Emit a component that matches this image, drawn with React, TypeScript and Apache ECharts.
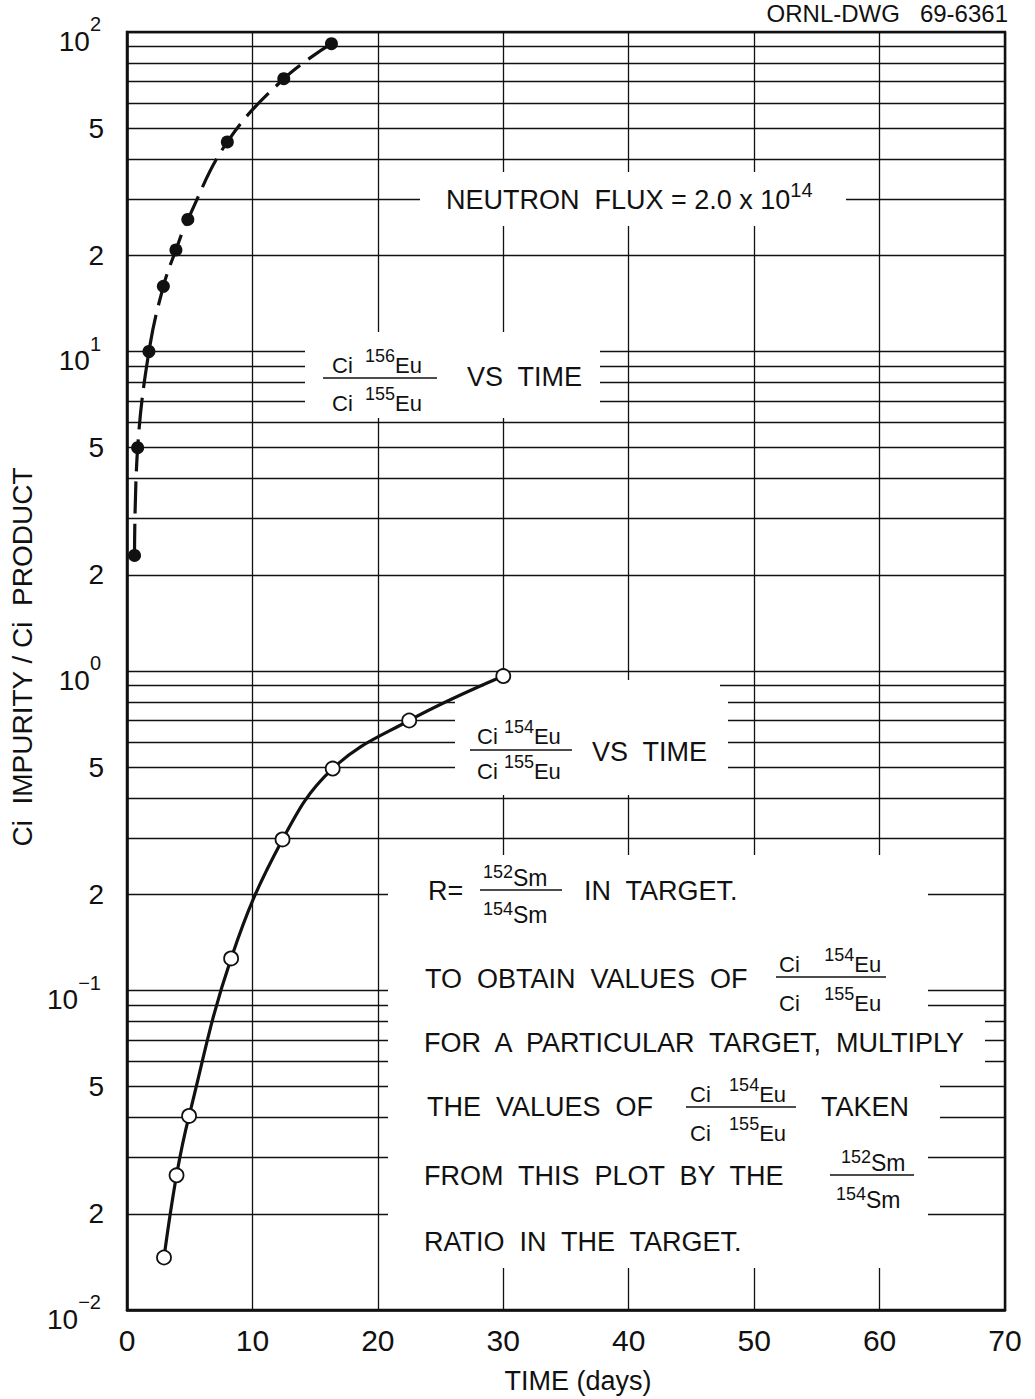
import React, { useEffect, useRef } from 'react';
import * as echarts from 'echarts';

// ---- data ----
const filledTime = [0.6, 0.85, 1.75, 2.9, 3.9, 4.85, 8.0, 12.5, 16.3];
const filledRatio = [2.3, 5.0, 10.0, 16.0, 20.8, 25.9, 45.3, 71.4, 91.9];
const openTime = [2.95, 3.95, 4.95, 8.3, 12.4, 16.4, 22.5, 30.0];
const openRatio = [0.0146, 0.0264, 0.0405, 0.126, 0.297, 0.495, 0.7, 0.964];

const xMin = 0;
const xMax = 70;
const xStep = 10;
const yMin = 0.01;
const yMax = 100;
const decadeStarts = [0.01, 0.1, 1, 10];
const minorMantissas = [2, 3, 4, 5, 6, 7, 8, 9];
const labeledMantissas = [2, 5];

const FONT = 'Liberation Sans';
const INK = '#111';

function zip(xs: number[], ys: number[]) {
  return xs.map((x, i) => [x, ys[i]]);
}

function plainText(x: number, y: number, text: string, fontSize = 27, align = 'left') {
  return {
    type: 'text', x, y, z: 6, silent: true,
    style: {
      text, fill: INK, fontFamily: FONT, fontSize,
      align, verticalAlign: 'middle', textAlign: align, textVerticalAlign: 'middle',
    },
  };
}

const isoRich = {
  c: { fontFamily: FONT, fontSize: 22, lineHeight: 36, verticalAlign: 'middle', fill: INK },
  s: { fontFamily: FONT, fontSize: 18, lineHeight: 15, verticalAlign: 'top', fill: INK },
  e: { fontFamily: FONT, fontSize: 22, lineHeight: 36, verticalAlign: 'middle', fill: INK },
};
const smRich = {
  s: { fontFamily: FONT, fontSize: 18, lineHeight: 14, verticalAlign: 'top', fill: INK },
  m: { fontFamily: FONT, fontSize: 23, lineHeight: 30, verticalAlign: 'middle', fill: INK },
};

function richText(x: number, y: number, text: string, rich: any) {
  return {
    type: 'text', x, y, z: 6, silent: true,
    style: {
      text, rich, fill: INK, fontFamily: FONT, fontSize: 22,
      align: 'left', verticalAlign: 'middle', textAlign: 'left', textVerticalAlign: 'middle',
    },
  };
}

function bar(x1: number, x2: number, y: number) {
  return {
    type: 'line', z: 6, silent: true,
    shape: { x1, y1: y, x2, y2: y },
    style: { stroke: INK, lineWidth: 1.6 },
  };
}

function euFrac(barL: number, barR: number, yBar: number, xText: number, yNum: number, yDen: number, numMass: string, denMass: string, gap: number) {
  const sp = ' '.repeat(gap);
  return [
    richText(xText, yNum, `{c|Ci${sp}}{s|${numMass}}{e|Eu}`, isoRich),
    bar(barL, barR, yBar),
    richText(xText, yDen, `{c|Ci${sp}}{s|${denMass}}{e|Eu}`, isoRich),
  ];
}

function smFrac(barL: number, barR: number, yBar: number, xNum: number, yNum: number, xDen: number, yDen: number) {
  return [
    richText(xNum, yNum, '{s|152}{m|Sm}', smRich),
    bar(barL, barR, yBar),
    richText(xDen, yDen, '{s|154}{m|Sm}', smRich),
  ];
}

function whiteBox(x: number, y: number, width: number, height: number) {
  return { type: 'rect', z: 3, silent: true, shape: { x, y, width, height }, style: { fill: '#fff' } };
}

export default function App() {
  const ref = useRef<HTMLDivElement>(null);

  useEffect(() => {
    if (!ref.current) return;
    const chart = echarts.init(ref.current, undefined, { renderer: 'svg' });

    const minorGridData = decadeStarts.flatMap((d) =>
      minorMantissas.map((m) => ({
        yAxis: m * d,
        label: { show: labeledMantissas.includes(m), formatter: String(m) },
      }))
    );

    const graphics: any[] = [
      // white label panels that interrupt the grid
      whiteBox(420, 172, 426, 54),
      whiteBox(305, 332, 295, 86),
      whiteBox(484, 680, 236, 12),
      whiteBox(455, 692, 273, 103),
      whiteBox(388, 855, 540, 413),
      whiteBox(928, 1012, 57, 58),
      whiteBox(928, 1070, 12, 55),

      // drawing number
      plainText(1008, 13, 'ORNL-DWG   69-6361', 24, 'right'),

      // neutron flux
      richText(446, 200, '{n|NEUTRON  FLUX = 2.0 x 10}{s|14}', {
        n: { fontFamily: FONT, fontSize: 27, lineHeight: 40, verticalAlign: 'middle', fill: INK },
        s: { fontFamily: FONT, fontSize: 20, lineHeight: 19, verticalAlign: 'top', fill: INK },
      }),

      // upper curve label
      ...euFrac(323, 437, 378, 332, 365, 403, '156', '155', 2),
      plainText(467, 377, 'VS  TIME', 27),

      // lower curve label
      ...euFrac(470, 572, 750, 477, 736, 771, '154', '155', 1),
      plainText(592, 752, 'VS  TIME', 27),

      // note block
      plainText(428, 891, 'R=', 27),
      ...smFrac(480, 562, 890, 483, 878, 483, 915),
      plainText(584, 891, 'IN  TARGET.', 27),

      plainText(425, 979, 'TO  OBTAIN  VALUES  OF', 27),
      ...euFrac(776, 886, 977, 779, 964, 1003, '154', '155', 4),

      plainText(424, 1043, 'FOR  A  PARTICULAR  TARGET,  MULTIPLY', 27),

      plainText(427, 1107, 'THE  VALUES  OF', 27),
      ...euFrac(686, 796, 1107, 690, 1094, 1133, '154', '155', 3),
      plainText(821, 1107, 'TAKEN', 27),

      plainText(424, 1176, 'FROM  THIS  PLOT  BY  THE', 27),
      ...smFrac(830, 914, 1175, 841, 1163, 836, 1200),

      plainText(424, 1242, 'RATIO  IN  THE  TARGET.', 27),
    ];

    const option: any = {
      animation: false,
      backgroundColor: '#fff',
      grid: {
        left: 127, top: 32, width: 878, height: 1279,
        show: true, borderColor: INK, borderWidth: 2.5, backgroundColor: 'transparent',
      },
      xAxis: {
        type: 'value', min: xMin, max: xMax, interval: xStep,
        axisLine: { show: true, onZero: false, lineStyle: { color: INK, width: 2.5 } },
        axisTick: { show: false },
        splitLine: { show: true, lineStyle: { color: INK, width: 1.3 } },
        axisLabel: { fontSize: 30, fontFamily: FONT, color: INK, margin: 15 },
        name: 'TIME (days)', nameLocation: 'middle', nameGap: 57,
        nameTextStyle: { fontSize: 27, fontFamily: FONT, color: INK, padding: [0, 0, 0, 24] },
      },
      yAxis: {
        type: 'log', logBase: 10, min: yMin, max: yMax,
        axisLine: { show: true, onZero: false, lineStyle: { color: INK, width: 2.5 } },
        axisTick: { show: false },
        splitLine: { show: true, lineStyle: { color: INK, width: 1.3 } },
        axisLabel: {
          margin: 26,
          padding: [18, 0, 0, 0],
          formatter: (v: number) => {
            const e = String(Math.round(Math.log10(v))).replace('-', '\u2212');
            return `{b|10}{s|${e}}`;
          },
          rich: {
            b: { fontSize: 28, lineHeight: 54, verticalAlign: 'middle', fontFamily: FONT, color: INK },
            s: { fontSize: 20, lineHeight: 18, verticalAlign: 'top', fontFamily: FONT, color: INK },
          },
        },
        name: 'Ci  IMPURITY / Ci  PRODUCT', nameLocation: 'middle', nameGap: 85,
        nameTextStyle: { fontSize: 28, fontFamily: FONT, color: INK, padding: [0, 0, 0, 28] },
      },
      graphic: { elements: graphics },
      series: [
        {
          name: 'minor grid', type: 'line', data: [], silent: true, z: 1,
          markLine: {
            silent: true, z: 1, symbol: ['none', 'none'], animation: false,
            lineStyle: { color: INK, width: 1.3, type: 'solid' },
            label: { show: true, position: 'start', distance: 23, fontSize: 28, fontFamily: FONT, color: INK },
            emphasis: { disabled: true },
            data: minorGridData,
          },
        },
        {
          name: 'Ci 156Eu / Ci 155Eu', type: 'line', z: 5,
          data: zip(filledTime, filledRatio),
          smooth: 0.4,
          symbol: 'circle', symbolSize: 13,
          itemStyle: { color: INK },
          lineStyle: { color: INK, width: 3.2, type: [32, 10] },
          emphasis: { disabled: true },
        },
        {
          name: 'Ci 154Eu / Ci 155Eu', type: 'line', z: 5,
          data: zip(openTime, openRatio),
          smooth: 0.4,
          symbol: 'circle', symbolSize: 14,
          itemStyle: { color: '#fff', borderColor: INK, borderWidth: 1.8 },
          lineStyle: { color: INK, width: 3.2 },
          emphasis: { disabled: true },
        },
      ],
    };

    chart.setOption(option);
    return () => chart.dispose();
  }, []);

  return (
    <div
      ref={ref}
      style={{ position: 'absolute', left: 0, top: 0, width: 1035, height: 1399, background: '#fff' }}
    />
  );
}
